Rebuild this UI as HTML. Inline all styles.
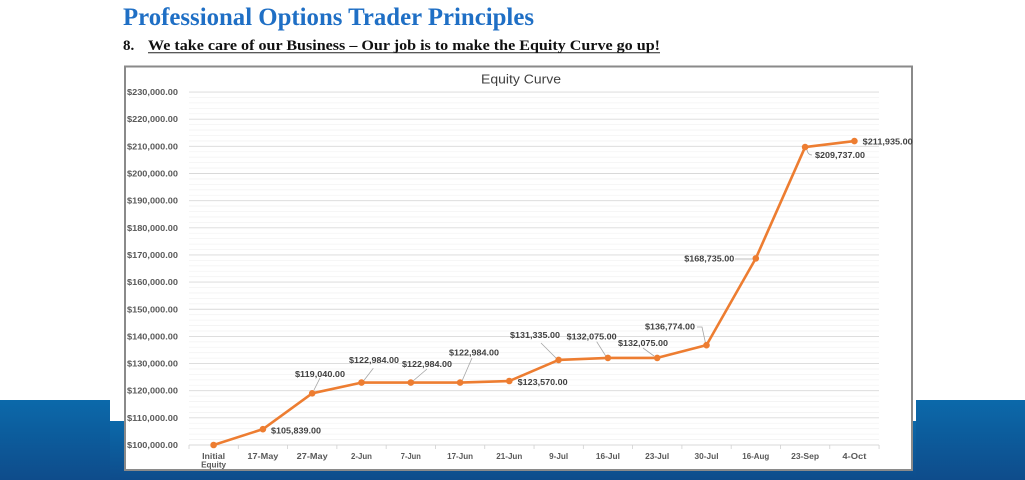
<!DOCTYPE html>
<html>
<head>
<meta charset="utf-8">
<style>
html,body{margin:0;padding:0;background:#fff;}
svg{display:block;}
.yl{font-family:"Liberation Sans",sans-serif;font-size:8px;font-weight:bold;fill:#595959;}
.dl{font-family:"Liberation Sans",sans-serif;font-size:8px;font-weight:bold;fill:#404040;}
.xl{font-family:"Liberation Sans",sans-serif;font-size:8px;font-weight:bold;fill:#595959;}
</style>
</head>
<body>
<svg width="1025" height="480" viewBox="0 0 1025 480" xmlns="http://www.w3.org/2000/svg">
  <defs>
    <linearGradient id="bg" x1="0" y1="0" x2="0" y2="1">
      <stop offset="0" stop-color="#0b69aa"/>
      <stop offset="1" stop-color="#0e4c8b"/>
    </linearGradient>
  </defs>
  <rect x="0" y="0" width="1025" height="480" fill="#fff"/>
  <rect x="0" y="400" width="110" height="80" fill="url(#bg)"/>
  <rect x="110" y="421" width="806" height="59" fill="url(#bg)"/>
  <rect x="916" y="400" width="109" height="80" fill="url(#bg)"/>

  <text x="123" y="25" font-family="Liberation Serif, serif" font-size="25" font-weight="bold" fill="#1f6fc5" textLength="411" lengthAdjust="spacingAndGlyphs">Professional Options Trader Principles</text>
  <text x="123" y="50" font-family="Liberation Serif, serif" font-size="15" font-weight="bold" fill="#111">8.</text>
  <text x="148" y="50" font-family="Liberation Serif, serif" font-size="15" font-weight="bold" fill="#111" textLength="512" lengthAdjust="spacingAndGlyphs">We take care of our Business – Our job is to make the Equity Curve go up!</text>
  <line x1="148" y1="52.8" x2="660" y2="52.8" stroke="#222" stroke-width="1"/>

  <rect x="125" y="66.5" width="787" height="403.5" fill="#fff" stroke="#8a8a8a" stroke-width="2"/>
  <text x="521" y="83.5" text-anchor="middle" font-family="Liberation Sans, sans-serif" font-size="13" fill="#404040" textLength="80" lengthAdjust="spacingAndGlyphs">Equity Curve</text>

  <g stroke="#f3f3f3" stroke-width="0.8">
    <path id="minor" d=""/>
  </g>
  <g id="grid"></g>
  <g id="ticks" stroke="#d0d0d0" stroke-width="0.8"></g>
  <g id="ylabels"></g>

  <g stroke="#a6a6a6" stroke-width="0.8" fill="none">
    <line x1="314" y1="390" x2="320" y2="378"/>
    <line x1="362.7" y1="382" x2="373.3" y2="368.3"/>
    <line x1="413" y1="381" x2="427" y2="369"/>
    <line x1="462" y1="381" x2="472" y2="358"/>
    <line x1="557" y1="359" x2="541" y2="343"/>
    <line x1="606.7" y1="357.5" x2="596.7" y2="341.7"/>
    <line x1="654" y1="356" x2="643" y2="348"/>
    <polyline points="697,327 702,327 705.5,343"/>
    <line x1="735" y1="259" x2="753" y2="259"/>
    <path d="M807,150 Q808,155 812,155"/>
  </g>

  <polyline fill="none" stroke="#ed7d31" stroke-width="2.6" stroke-linejoin="round"
    points="213.6,445 262.9,429.15 312.2,393.31 361.5,382.6 410.8,382.6 460.1,382.6 509.3,381.01 558.6,359.93 607.9,357.92 657.2,357.92 706.5,345.16 755.8,258.38 805.1,147.06 854.4,141.1"/>
  <g fill="#ed7d31">
    <circle cx="213.6" cy="445" r="3.3"/>
    <circle cx="262.9" cy="429.15" r="3.3"/>
    <circle cx="312.2" cy="393.31" r="3.3"/>
    <circle cx="361.5" cy="382.6" r="3.3"/>
    <circle cx="410.8" cy="382.6" r="3.3"/>
    <circle cx="460.1" cy="382.6" r="3.3"/>
    <circle cx="509.3" cy="381.01" r="3.3"/>
    <circle cx="558.6" cy="359.93" r="3.3"/>
    <circle cx="607.9" cy="357.92" r="3.3"/>
    <circle cx="657.2" cy="357.92" r="3.3"/>
    <circle cx="706.5" cy="345.16" r="3.3"/>
    <circle cx="755.8" cy="258.38" r="3.3"/>
    <circle cx="805.1" cy="147.06" r="3.3"/>
    <circle cx="854.4" cy="141.1" r="3.3"/>
  </g>

  <g>
    <text class="dl" x="271" y="433.5" textLength="50" lengthAdjust="spacingAndGlyphs">$105,839.00</text>
    <text class="dl" x="295" y="377" textLength="50" lengthAdjust="spacingAndGlyphs">$119,040.00</text>
    <text class="dl" x="349" y="363" textLength="50" lengthAdjust="spacingAndGlyphs">$122,984.00</text>
    <text class="dl" x="402" y="367" textLength="50" lengthAdjust="spacingAndGlyphs">$122,984.00</text>
    <text class="dl" x="449" y="355.7" textLength="50" lengthAdjust="spacingAndGlyphs">$122,984.00</text>
    <text class="dl" x="517.7" y="385" textLength="50" lengthAdjust="spacingAndGlyphs">$123,570.00</text>
    <text class="dl" x="510" y="338" textLength="50" lengthAdjust="spacingAndGlyphs">$131,335.00</text>
    <text class="dl" x="566.7" y="339.7" textLength="50" lengthAdjust="spacingAndGlyphs">$132,075.00</text>
    <text class="dl" x="618" y="346" textLength="50" lengthAdjust="spacingAndGlyphs">$132,075.00</text>
    <text class="dl" x="645" y="329.7" textLength="50" lengthAdjust="spacingAndGlyphs">$136,774.00</text>
    <text class="dl" x="684.3" y="261.3" textLength="50" lengthAdjust="spacingAndGlyphs">$168,735.00</text>
    <text class="dl" x="815" y="158" textLength="50" lengthAdjust="spacingAndGlyphs">$209,737.00</text>
    <text class="dl" x="862.7" y="144.3" textLength="50" lengthAdjust="spacingAndGlyphs">$211,935.00</text>
  </g>

  <g text-anchor="middle">
    <text class="xl" x="213.6" y="459" textLength="23" lengthAdjust="spacingAndGlyphs">Initial</text>
    <text class="xl" x="213.6" y="467.5" textLength="25" lengthAdjust="spacingAndGlyphs">Equity</text>
    <text class="xl" x="262.9" y="459" textLength="31" lengthAdjust="spacingAndGlyphs">17-May</text>
    <text class="xl" x="312.2" y="459" textLength="31" lengthAdjust="spacingAndGlyphs">27-May</text>
    <text class="xl" x="361.5" y="459" textLength="21" lengthAdjust="spacingAndGlyphs">2-Jun</text>
    <text class="xl" x="410.8" y="459" textLength="20" lengthAdjust="spacingAndGlyphs">7-Jun</text>
    <text class="xl" x="460.1" y="459" textLength="26" lengthAdjust="spacingAndGlyphs">17-Jun</text>
    <text class="xl" x="509.3" y="459" textLength="26" lengthAdjust="spacingAndGlyphs">21-Jun</text>
    <text class="xl" x="558.6" y="459" textLength="19" lengthAdjust="spacingAndGlyphs">9-Jul</text>
    <text class="xl" x="607.9" y="459" textLength="24" lengthAdjust="spacingAndGlyphs">16-Jul</text>
    <text class="xl" x="657.2" y="459" textLength="24" lengthAdjust="spacingAndGlyphs">23-Jul</text>
    <text class="xl" x="706.5" y="459" textLength="24" lengthAdjust="spacingAndGlyphs">30-Jul</text>
    <text class="xl" x="755.8" y="459" textLength="27" lengthAdjust="spacingAndGlyphs">16-Aug</text>
    <text class="xl" x="805.1" y="459" textLength="28" lengthAdjust="spacingAndGlyphs">23-Sep</text>
    <text class="xl" x="854.4" y="459" textLength="24" lengthAdjust="spacingAndGlyphs">4-Oct</text>
  </g>
</svg>
<script>
(function(){
  var ns="http://www.w3.org/2000/svg";
  var grid=document.getElementById("grid");
  var ticks=document.getElementById("ticks");
  var yl=document.getElementById("ylabels");
  var d="";
  for(var k=0;k<13;k++){
    for(var m=1;m<5;m++){
      var y=445-k*27.15-m*5.43;
      d+="M189,"+y.toFixed(2)+"H879";
    }
  }
  document.getElementById("minor").setAttribute("d",d);
  for(var k=0;k<=13;k++){
    var y=445-k*27.15;
    var l=document.createElementNS(ns,"line");
    l.setAttribute("x1","189");l.setAttribute("x2","879");
    l.setAttribute("y1",y);l.setAttribute("y2",y);
    l.setAttribute("stroke","#d9d9d9");l.setAttribute("stroke-width","0.9");
    grid.appendChild(l);
    var t=document.createElementNS(ns,"text");
    t.setAttribute("x","127");t.setAttribute("y",(y+3).toFixed(2));
    t.setAttribute("class","yl");
    t.setAttribute("textLength","51");
    t.setAttribute("lengthAdjust","spacingAndGlyphs");
    var v=100000+k*10000;
    t.textContent="$"+String(v).replace(/\B(?=(\d{3})+(?!\d))/g,",")+".00";
    yl.appendChild(t);
  }
  for(var i=0;i<=14;i++){
    var x=189+i*49.29;
    var l=document.createElementNS(ns,"line");
    l.setAttribute("x1",x);l.setAttribute("x2",x);
    l.setAttribute("y1","445");l.setAttribute("y2","449");
    ticks.appendChild(l);
  }
})();
</script>
</body>
</html>
